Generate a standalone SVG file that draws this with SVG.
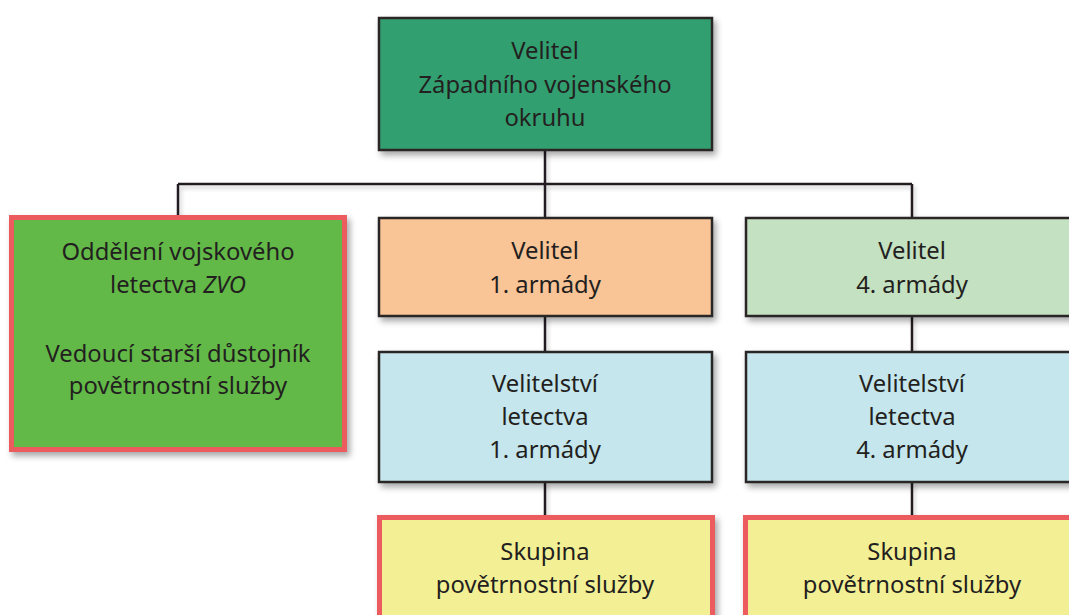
<svg xmlns="http://www.w3.org/2000/svg" width="1069" height="615" viewBox="0 0 1069 615">
  <defs>
    <filter id="shadow" x="-10%" y="-10%" width="130%" height="140%">
      <feDropShadow dx="3" dy="4" stdDeviation="3" flood-color="#000" flood-opacity="0.35"/>
    </filter>
    <filter id="lineShadow" x="-5%" y="-50%" width="110%" height="300%">
      <feDropShadow dx="2" dy="3" stdDeviation="2" flood-color="#000" flood-opacity="0.2"/>
    </filter>
  </defs>
  <style>
    .box { stroke: #2a2627; stroke-width: 2.5; filter: url(#shadow); }
    .hl { stroke: #ec5b5e; stroke-width: 5; filter: url(#shadow); }
    .lbl { font-family: "Noto Sans", "Open Sans", sans-serif; font-size: 23.8px; fill: #231f20; text-anchor: middle; }
    .conn { stroke: #231f20; stroke-width: 2.5; fill: none; }
  </style>
  <rect width="1069" height="615" fill="#ffffff"/>

  <!-- connectors -->
  <g id="connectors" filter="url(#lineShadow)">
    <path class="conn" d="M545 151 V218"/>
    <path class="conn" d="M178 184 H912"/>
    <path class="conn" d="M178 184 V216"/>
    <path class="conn" d="M912 184 V218"/>
    <path class="conn" d="M545 316 V352"/>
    <path class="conn" d="M912 316 V352"/>
    <path class="conn" d="M545 482 V516"/>
    <path class="conn" d="M912 482 V516"/>
  </g>

  <g id="zvo-commander">
    <rect class="box" x="379" y="18" width="333" height="132" fill="#339f6f"/>
    <text class="lbl" x="545" y="59">Velitel</text>
    <text class="lbl" x="545" y="92.5">Západního vojenského</text>
    <text class="lbl" x="545" y="126">okruhu</text>
  </g>

  <g id="zvo-aviation-dept">
    <rect class="hl" x="11.5" y="217.5" width="333" height="232" fill="#62b946"/>
    <text class="lbl" x="178" y="260">Oddělení vojskového</text>
    <text class="lbl" x="178" y="293">letectva <tspan font-style="italic">ZVO</tspan></text>
    <text class="lbl" x="178" y="362">Vedoucí starší důstojník</text>
    <text class="lbl" x="178" y="394">povětrnostní služby</text>
  </g>

  <g id="army1-commander">
    <rect class="box" x="379" y="218" width="333" height="98" fill="#f9c496"/>
    <text class="lbl" x="545" y="259">Velitel</text>
    <text class="lbl" x="545" y="293">1. armády</text>
  </g>

  <g id="army4-commander">
    <rect class="box" x="746" y="218" width="340" height="98" fill="#c4e1c1"/>
    <text class="lbl" x="912" y="259">Velitel</text>
    <text class="lbl" x="912" y="293">4. armády</text>
  </g>

  <g id="army1-aviation">
    <rect class="box" x="379" y="352" width="333" height="130" fill="#c4e6ec"/>
    <text class="lbl" x="545" y="392">Velitelství</text>
    <text class="lbl" x="545" y="425">letectva</text>
    <text class="lbl" x="545" y="458">1. armády</text>
  </g>

  <g id="army4-aviation">
    <rect class="box" x="746" y="352" width="340" height="130" fill="#c4e6ec"/>
    <text class="lbl" x="912" y="392">Velitelství</text>
    <text class="lbl" x="912" y="425">letectva</text>
    <text class="lbl" x="912" y="458">4. armády</text>
  </g>

  <g id="army1-weather-group">
    <rect class="hl" x="379.5" y="517.5" width="333" height="120" fill="#f3ef94"/>
    <text class="lbl" x="545" y="560">Skupina</text>
    <text class="lbl" x="545" y="593">povětrnostní služby</text>
  </g>

  <g id="army4-weather-group">
    <rect class="hl" x="745.5" y="517.5" width="340" height="120" fill="#f3ef94"/>
    <text class="lbl" x="912" y="560">Skupina</text>
    <text class="lbl" x="912" y="593">povětrnostní služby</text>
  </g>
</svg>
